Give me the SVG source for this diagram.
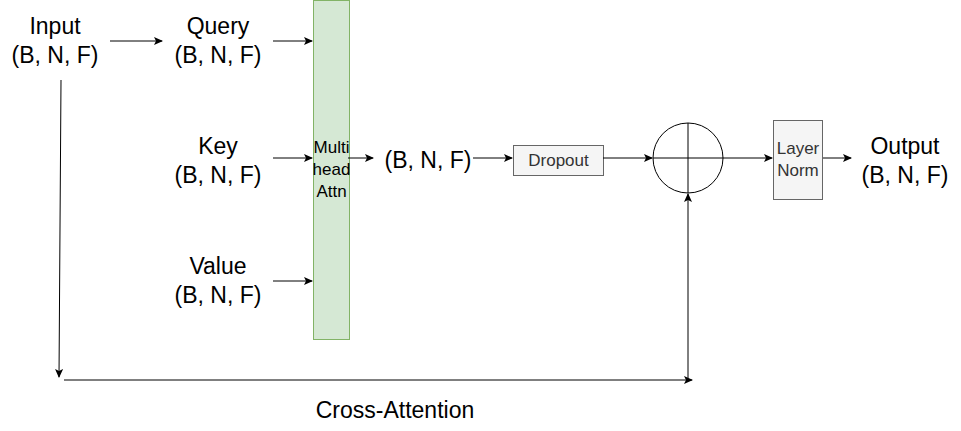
<svg xmlns="http://www.w3.org/2000/svg" width="961" height="431" viewBox="0 0 961 431">
<defs>
<marker id="ah" markerWidth="10" markerHeight="8" refX="8" refY="4" orient="auto" markerUnits="userSpaceOnUse">
<path d="M0,0 L9,4 L0,8 L2,4 Z" fill="#000"/>
</marker>
</defs>
<style>
.lbl{font-family:"Liberation Sans",Arial,sans-serif;font-size:23px;fill:#000;text-anchor:middle}
.sm{font-family:"Liberation Sans",Arial,sans-serif;font-size:17px;text-anchor:middle}
.ln{stroke:#000;stroke-width:1;fill:none}
</style>
<rect width="961" height="431" fill="#fff"/>
<g id="input"><text class="lbl" x="55" y="34">Input</text><text class="lbl" x="55" y="63">(B, N, F)</text></g>
<g id="query"><text class="lbl" x="218" y="34">Query</text><text class="lbl" x="218" y="63">(B, N, F)</text></g>
<g id="key"><text class="lbl" x="218" y="154">Key</text><text class="lbl" x="218" y="183">(B, N, F)</text></g>
<g id="value"><text class="lbl" x="218" y="274">Value</text><text class="lbl" x="218" y="303">(B, N, F)</text></g>
<g id="mha"><rect x="313.5" y="0.5" width="36" height="339" fill="#d5e8d4" stroke="#82b366"/>
<text class="sm" x="331.5" y="153" fill="#000">Multi</text><text class="sm" x="331.5" y="175" fill="#000">head</text><text class="sm" x="331.5" y="197" fill="#000">Attn</text></g>
<g id="mid"><text class="lbl" x="428" y="168">(B, N, F)</text></g>
<g id="dropout"><rect x="513.5" y="145.5" width="90" height="30" fill="#f5f5f5" stroke="#666"/><text class="sm" x="558.5" y="166" fill="#333">Dropout</text></g>
<g id="add"><circle cx="688" cy="158" r="35" fill="none" stroke="#000"/><path class="ln" d="M653,158 H723 M688,123 V193"/></g>
<g id="layernorm"><rect x="773.5" y="120.5" width="49" height="79" fill="#f5f5f5" stroke="#666"/><text class="sm" x="798" y="154" fill="#333">Layer</text><text class="sm" x="798" y="176" fill="#333">Norm</text></g>
<g id="output"><text class="lbl" x="905" y="154">Output</text><text class="lbl" x="905" y="183">(B, N, F)</text></g>
<g id="caption"><text class="lbl" x="395" y="418">Cross-Attention</text></g>
<g id="connectors">
<path class="ln" d="M110,41 H162" marker-end="url(#ah)"/>
<path class="ln" d="M273,41 H312" marker-end="url(#ah)"/>
<path class="ln" d="M273,158 H312" marker-end="url(#ah)"/>
<path class="ln" d="M273,281 H312" marker-end="url(#ah)"/>
<path class="ln" d="M348,158 H373" marker-end="url(#ah)"/>
<path class="ln" d="M473,158 H512" marker-end="url(#ah)"/>
<path class="ln" d="M603,158 H652" marker-end="url(#ah)"/>
<path class="ln" d="M723,158 H772" marker-end="url(#ah)"/>
<path class="ln" d="M823,158 H851" marker-end="url(#ah)"/>
<path class="ln" d="M61,80 L59,377" marker-end="url(#ah)"/>
<path class="ln" d="M64,380 H692" marker-end="url(#ah)"/>
<path class="ln" d="M688,378 V194" marker-end="url(#ah)"/>
</g>
</svg>
